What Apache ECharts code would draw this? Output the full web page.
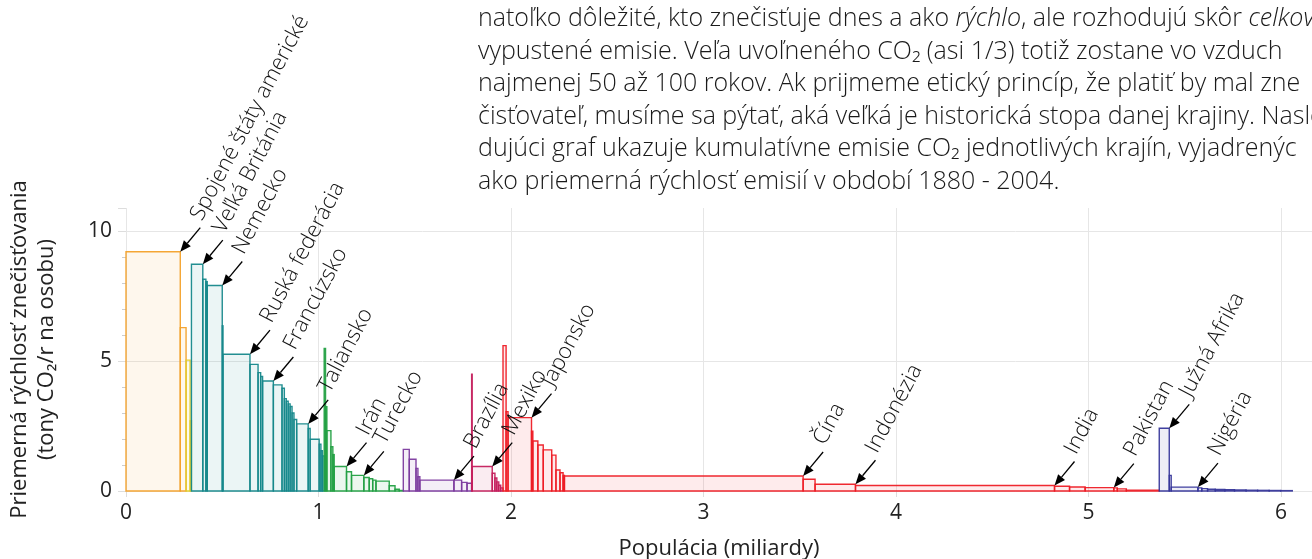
<!DOCTYPE html>
<html>
<head>
<meta charset="utf-8">
<script src="https://cdn.jsdelivr.net/npm/echarts/dist/echarts.min.js"></script>
<style>
html, body { margin: 0; padding: 0; background: #fff; }
#chart { width: 1312px; height: 559px; }
</style>
</head>
<body>
<div id="chart"></div>
<script>
// farby regiónov (obrys), výplň je tá istá farba priesvitne
var regionColors = ['#f3a12a', '#e2cc2a', '#16888b', '#23a043', '#7c3a9e', '#c41e5c', '#ee1c25', '#36369a'];

// populácia krajín (miliardy), v poradí ako v grafe
var population = [
    0.282, 0.030, 0.021, 0.007,
    0.059, 0.016, 0.007, 0.078, 0.004, 0.140, 0.042, 0.0135, 0.010, 0.056, 0.045, 0.012, 0.010, 0.010, 0.010, 0.010, 0.010, 0.014, 0.060, 0.010, 0.047, 0.009, 0.008, 0.009,
    0.007, 0.007, 0.021, 0.010, 0.007, 0.064, 0.026, 0.064, 0.028, 0.018, 0.017, 0.069, 0.030, 0.022, 0.021,
    0.031, 0.035, 0.010, 0.010, 0.177, 0.040, 0.028, 0.024,
    0.003, 0.104, 0.014, 0.010, 0.010, 0.010, 0.012,
    0.016, 0.010, 0.122, 0.007, 0.026, 0.028, 0.044, 0.022, 0.021, 0.016, 0.007, 1.240, 0.062, 0.210, 1.034, 0.078, 0.081, 0.149, 0.018, 0.047, 0.171,
    0.052, 0.010, 0.139, 0.020, 0.030, 0.040, 0.050, 0.050, 0.060, 0.060, 0.060, 0.060, 0.060
];
// priemerná rýchlosť znečisťovania (t CO2 / rok na osobu)
var rate = [
    9.2, 6.28, 5.03, 2.7,
    8.72, 8.14, 8.05, 7.9, 6.35, 5.26, 4.87, 4.55, 4.4, 4.23, 4.08, 3.95, 3.55, 3.45, 3.35, 3.25, 3.0, 2.75, 2.58, 2.4, 1.99, 1.8, 1.55, 1.35,
    5.48, 3.24, 2.32, 1.7, 1.4, 0.94, 0.74, 0.6, 0.52, 0.47, 0.42, 0.38, 0.2, 0.07, 0.02,
    1.6, 1.22, 0.87, 0.55, 0.42, 0.42, 0.33, 0.3,
    4.49, 0.94, 0.68, 0.5, 0.35, 0.22, 0.12,
    5.59, 3.05, 2.82, 2.3, 1.92, 1.77, 1.58, 1.38, 0.81, 0.7, 0.6, 0.577, 0.45, 0.26, 0.21, 0.18, 0.155, 0.13, 0.12, 0.08, 0.03,
    2.41, 0.6, 0.15, 0.12, 0.09, 0.07, 0.06, 0.05, 0.04, 0.03, 0.025, 0.02, 0.015
];
// región každej krajiny (index do regionColors)
var region = [
    0, 0, 1, 1,
    2, 2, 2, 2, 2, 2, 2, 2, 2, 2, 2, 2, 2, 2, 2, 2, 2, 2, 2, 2, 2, 2, 2, 2,
    3, 3, 3, 3, 3, 3, 3, 3, 3, 3, 3, 3, 3, 3, 3,
    4, 4, 4, 4, 4, 4, 4, 4,
    5, 5, 5, 5, 5, 5, 5,
    6, 6, 6, 6, 6, 6, 6, 6, 6, 6, 6, 6, 6, 6, 6, 6, 6, 6, 6, 6, 6,
    7, 7, 7, 7, 7, 7, 7, 7, 7, 7, 7, 7, 7
];
// popisky: index krajiny a názov
var labelIndex = [0, 4, 7, 9, 13, 22, 33, 35, 47, 52, 60, 69, 71, 72, 75, 79, 81];
var labelNames = ['Spojené štáty americké', 'Veľká Británia', 'Nemecko', 'Ruská federácia', 'Francúzsko', 'Taliansko',
    'Irán', 'Turecko', 'Brazília', 'Mexiko', 'Japonsko', 'Čína', 'Indonézia', 'India', 'Pakistan', 'Južná Afrika', 'Nigéria'];

var paragraph = [
    'natoľko dôležité, kto znečisťuje dnes a ako {i|rýchlo}, ale rozhodujú skôr {i|celkov}',
    'vypustené emisie. Veľa uvoľneného CO₂ (asi 1/3) totiž zostane vo vzduch',
    'najmenej 50 až 100 rokov. Ak prijmeme etický princíp, že platiť by mal zne',
    'čisťovateľ, musíme sa pýtať, aká veľká je historická stopa danej krajiny. Nasle',
    'dujúci graf ukazuje kumulatívne emisie CO₂ jednotlivých krajín, vyjadrenýc',
    'ako priemerná rýchlosť emisií v období 1880 - 2004.'
];

var font = 'Open Sans';

// obdĺžniky: [zaciatok, koniec, hodnota, region]
var bars = [];
var x = 0;
for (var i = 0; i < population.length; i++) {
    bars.push([x, x + population[i], rate[i], region[i]]);
    x += population[i];
}
var labels = [];
for (var j = 0; j < labelIndex.length; j++) {
    var b = bars[labelIndex[j]];
    labels.push([b[1], b[2], j]);
}

var chart = echarts.init(document.getElementById('chart'), null, {renderer: 'canvas'});

var option = {
    animation: false,
    grid: {left: 126, right: 0, top: 208, bottom: 68, containLabel: false, outerBoundsMode: 'none'},
    xAxis: {
        type: 'value',
        min: 0,
        max: 6.161,
        interval: 1,
        name: 'Populácia (miliardy)',
        nameLocation: 'middle',
        nameGap: 47,
        nameTextStyle: {fontFamily: font, fontSize: 22, color: '#222'},
        axisLine: {show: false},
        axisTick: {show: true, length: 6, lineStyle: {color: '#ddd'}},
        axisLabel: {
            fontFamily: font, fontSize: 21, color: '#222', margin: 12,
            formatter: function (v) { return Math.abs(v - Math.round(v)) < 1e-6 ? String(Math.round(v)) : ''; }
        },
        splitLine: {show: true, showMaxLine: false, lineStyle: {color: '#e6e6e6'}}
    },
    yAxis: {
        type: 'value',
        min: 0,
        max: 10.88,
        interval: 5,
        name: 'Priemerná rýchlosť znečisťovania\n(tony CO₂/r na osobu)',
        nameLocation: 'middle',
        nameRotate: 90,
        nameGap: 66,
        nameTextStyle: {fontFamily: font, fontSize: 22, color: '#222', lineHeight: 27},
        axisLine: {show: false},
        axisTick: {show: true, length: 8, lineStyle: {color: '#ddd'}},
        minorTick: {show: true, splitNumber: 5, length: 4, lineStyle: {color: '#ccc'}},
        axisLabel: {
            fontFamily: font, fontSize: 21, color: '#222', margin: 14,
            formatter: function (v) { return v % 5 === 0 ? String(v) : ''; }
        },
        splitLine: {show: true, showMaxLine: false, lineStyle: {color: '#e6e6e6'}}
    },
    graphic: [{
        type: 'text',
        left: 478,
        top: 3,
        style: {
            text: paragraph.join('\n'),
            fontFamily: font,
            fontSize: 25,
            fontWeight: 300,
            lineHeight: 32.5,
            fill: '#1a1a1a',
            rich: {
                i: {fontFamily: font, fontSize: 25, fontWeight: 300, fontStyle: 'italic', lineHeight: 32.5, fill: '#1a1a1a'}
            }
        }
    }],
    series: [
        {
            type: 'custom',
            data: bars,
            encode: {x: [0, 1], y: 2},
            renderItem: function (params, api) {
                var p0 = api.coord([api.value(0), api.value(2)]);
                var p1 = api.coord([api.value(1), 0]);
                var c = regionColors[api.value(3)];
                return {
                    type: 'rect',
                    shape: {x: p0[0], y: p0[1], width: p1[0] - p0[0], height: p1[1] - p0[1]},
                    style: {fill: echarts.color.modifyAlpha(c, 0.09), stroke: c, lineWidth: 1.4, opacity: 0.95}
                };
            }
        },
        {
            type: 'custom',
            data: labels,
            encode: {x: 0, y: 1},
            z: 5,
            renderItem: function (params, api) {
                var tip = api.coord([api.value(0), api.value(1)]);
                var tx = tip[0] + 20, ty = tip[1] - 24;
                var dx = tip[0] - tx, dy = tip[1] - ty;
                var len = Math.sqrt(dx * dx + dy * dy);
                var ux = dx / len, uy = dy / len;
                var bx = tip[0] - ux * 11, by = tip[1] - uy * 11;
                return {
                    type: 'group',
                    children: [
                        {type: 'line', shape: {x1: tx, y1: ty, x2: bx, y2: by}, style: {stroke: '#000', lineWidth: 1.3}},
                        {type: 'polygon', shape: {points: [[tip[0], tip[1]], [bx - uy * 4.5, by + ux * 4.5], [bx + uy * 4.5, by - ux * 4.5]]}, style: {fill: '#000'}},
                        {
                            type: 'text', x: tx - 4, y: ty - 9, rotation: 62 * Math.PI / 180,
                            style: {text: labelNames[api.value(2)], fontFamily: font, fontSize: 22, fontWeight: 300, fill: '#111',
                                textAlign: 'left', textVerticalAlign: 'middle', align: 'left', verticalAlign: 'middle'}
                        }
                    ]
                };
            }
        }
    ]
};
chart.setOption(option);
</script>
</body>
</html>
